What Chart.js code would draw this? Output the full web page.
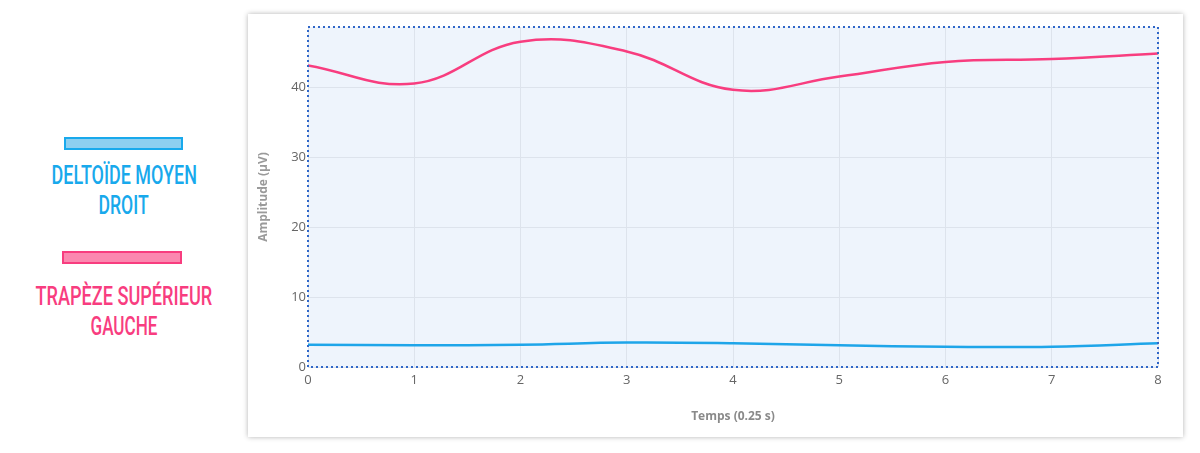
<!DOCTYPE html>
<html>
<head>
<meta charset="utf-8">
<script src="https://cdn.jsdelivr.net/npm/chart.js@4.4.0/dist/chart.umd.min.js"></script>
<style>
  body { margin: 0; background: #fff; width: 1200px; height: 453px; position: relative; overflow: hidden; }
  .legend-bar { position: absolute; height: 9px; border: 2px solid; }
  .legend-line { position: absolute; left: 0; width: 248px; text-align: center; font-family: Roboto, sans-serif; font-weight: 500; font-size: 25px; line-height: 30px; white-space: nowrap; }
  .legend-line span { display: inline-block; transform-origin: center; }
  #card { position: absolute; left: 248px; top: 14px; width: 935px; height: 423px; background: #fff; box-shadow: 0 0 5px rgba(0,0,0,0.3); }
</style>
</head>
<body>
<div class="legend-bar" style="left:64px; top:137px; width:115px; background:#8dcff0; border-color:#18a9ec;"></div>
<div class="legend-line" style="top:161px; color:#18a9ec;" data-w="145"><span>DELTOÏDE MOYEN</span></div>
<div class="legend-line" style="top:191px; color:#18a9ec;" data-w="50"><span>DROIT</span></div>
<div class="legend-bar" style="left:62px; top:251px; width:116px; background:#fb88b0; border-color:#f83d7f;"></div>
<div class="legend-line" style="top:282px; color:#f83d7f;" data-w="177"><span>TRAPÈZE SUPÉRIEUR</span></div>
<div class="legend-line" style="top:312px; color:#f83d7f;" data-w="67"><span>GAUCHE</span></div>

<div id="card"><canvas id="chart" width="935" height="423"></canvas></div>

<script>
// temps (0.25 s)
const labels = [0, 1, 2, 3, 4, 5, 6, 7, 8];
const deltoide = [3.2, 3.1, 3.2, 3.5, 3.4, 3.1, 2.9, 2.9, 3.4];
const trapeze = [43.2, 40.6, 46.6, 45.2, 39.7, 41.6, 43.7, 44.1, 44.9];
const yTicks = [0, 10, 20, 30, 40];

// légende condensée (police étroite du visuel d'origine)
document.querySelectorAll('.legend-line').forEach(el => {
    const span = el.querySelector('span');
    span.style.transform = 'scaleX(' + (el.dataset.w / span.offsetWidth) + ')';
});

// fond bleu clair + bordure pointillée de la zone de tracé
const plotFrame = {
    id: 'plotFrame',
    beforeDraw(chart) {
        const a = chart.chartArea, ctx = chart.ctx;
        ctx.save();
        ctx.fillStyle = '#eef4fc';
        ctx.fillRect(a.left, a.top, a.right - a.left, a.bottom - a.top);
        ctx.restore();
    },
    afterDatasetsDraw(chart) {
        const a = chart.chartArea, ctx = chart.ctx;
        ctx.save();
        ctx.strokeStyle = '#2f66c8';
        ctx.lineWidth = 2;
        ctx.setLineDash([2, 3]);
        ctx.strokeRect(a.left, a.top, a.right - a.left, a.bottom - a.top);
        ctx.restore();
    }
};

new Chart(document.getElementById('chart'), {
    type: 'line',
    data: {
        labels: labels,
        datasets: [
            { label: 'Deltoïde moyen droit', data: deltoide, borderColor: '#1ea5e9', borderWidth: 2.5, pointRadius: 0, tension: 0.4, fill: false },
            { label: 'Trapèze supérieur gauche', data: trapeze, borderColor: '#f83d7f', borderWidth: 2.5, pointRadius: 0, tension: 0.4, fill: false }
        ]
    },
    options: {
        responsive: false,
        animation: false,
        layout: { padding: { top: 13, right: 25, left: 0, bottom: 0 } },
        plugins: { legend: { display: false }, tooltip: { enabled: false } },
        scales: {
            x: {
                type: 'linear', min: 0, max: 8,
                afterFit(s) { s.height = 70; },
                grid: { color: '#dde3ec', drawTicks: false },
                border: { display: false },
                ticks: { stepSize: 1, padding: 5, color: '#666', font: { family: 'Open Sans', size: 13 } },
                title: { display: true, text: 'Temps (0.25 s)', color: '#8a8a8a', padding: { top: 4, bottom: 13 }, font: { family: 'Open Sans', size: 12, weight: 'bold' } }
            },
            y: {
                min: 0, max: 48.7,
                afterFit(s) { s.width = 60; },
                afterBuildTicks(s) { s.ticks = yTicks.map(v => ({ value: v })); },
                grid: { color: '#dde3ec', drawTicks: false },
                border: { display: false },
                ticks: { padding: 2, color: '#666', font: { family: 'Open Sans', size: 13 } },
                title: { display: true, text: 'Amplitude (µV)', color: '#9a9a9a', padding: { top: 8, bottom: 4 }, font: { family: 'Open Sans', size: 12, weight: 'bold' } }
            }
        }
    },
    plugins: [plotFrame]
});
</script>
</body>
</html>
